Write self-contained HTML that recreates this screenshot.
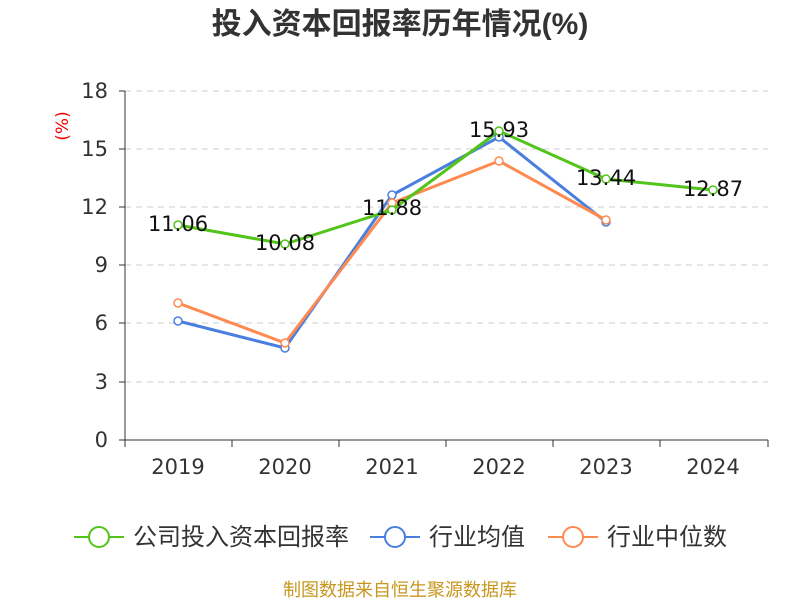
<!DOCTYPE html>
<html><head><meta charset="utf-8"><style>
body{margin:0;background:#fff;}
svg text{font-family:"DejaVu Sans","Noto Sans CJK SC",sans-serif;}
</style></head><body>
<svg width="800" height="600" viewBox="0 0 800 600" xmlns="http://www.w3.org/2000/svg">
<text x="400" y="34" text-anchor="middle" font-size="30" font-weight="bold" fill="#333" style="font-family:'Liberation Sans','Noto Sans CJK SC',sans-serif">投入资本回报率历年情况(%)</text>
<text x="68" y="126" font-size="17" fill="#e00" transform="rotate(-90 68 126)" text-anchor="middle">(%)</text>
<g stroke="#ccc" stroke-dasharray="6,5" stroke-width="1">
<line x1="125" y1="91" x2="768" y2="91"/><line x1="125" y1="149" x2="768" y2="149"/>
<line x1="125" y1="207" x2="768" y2="207"/><line x1="125" y1="265" x2="768" y2="265"/>
<line x1="125" y1="323" x2="768" y2="323"/><line x1="125" y1="382" x2="768" y2="382"/>
</g>
<g stroke="#333" stroke-width="1">
<line x1="125" y1="91" x2="125" y2="440"/><line x1="125" y1="440" x2="768" y2="440"/>
<line x1="119" y1="91" x2="125" y2="91"/><line x1="119" y1="149" x2="125" y2="149"/><line x1="119" y1="207" x2="125" y2="207"/><line x1="119" y1="265" x2="125" y2="265"/><line x1="119" y1="323" x2="125" y2="323"/><line x1="119" y1="382" x2="125" y2="382"/><line x1="119" y1="440" x2="125" y2="440"/>
<line x1="125" y1="440" x2="125" y2="447"/><line x1="232" y1="440" x2="232" y2="447"/><line x1="339" y1="440" x2="339" y2="447"/><line x1="446" y1="440" x2="446" y2="447"/><line x1="553" y1="440" x2="553" y2="447"/><line x1="660" y1="440" x2="660" y2="447"/><line x1="768" y1="440" x2="768" y2="447"/>
</g>
<g font-size="21" fill="#333" text-anchor="end">
<text x="108" y="98">18</text><text x="108" y="156">15</text><text x="108" y="214">12</text><text x="108" y="272">9</text><text x="108" y="330">6</text><text x="108" y="389">3</text><text x="108" y="447">0</text>
</g>
<g font-size="21" fill="#333" text-anchor="middle">
<text x="178" y="474">2019</text><text x="285" y="474">2020</text><text x="392" y="474">2021</text><text x="499" y="474">2022</text><text x="606" y="474">2023</text><text x="713" y="474">2024</text>
</g>
<polyline fill="none" stroke="#4a7fe0" stroke-width="3" points="178,321 285,348 392,195 499,137 606,222"/>
<polyline fill="none" stroke="#ff8a50" stroke-width="3" points="178,303 285,343 392,203 499,161 606,220"/>
<polyline fill="none" stroke="#52c41a" stroke-width="3" points="178,225 285,244 392,210 499,131 606,179 713,190"/>
<g fill="#fff" stroke-width="1.5">
<g stroke="#4a7fe0"><circle cx="178" cy="321" r="4"/><circle cx="285" cy="348" r="4"/><circle cx="392" cy="195" r="4"/><circle cx="499" cy="137" r="4"/><circle cx="606" cy="222" r="4"/></g>
<g stroke="#ff8a50"><circle cx="178" cy="303" r="4"/><circle cx="285" cy="343" r="4"/><circle cx="392" cy="203" r="4"/><circle cx="499" cy="161" r="4"/><circle cx="606" cy="220" r="4"/></g>
<g stroke="#52c41a"><circle cx="178" cy="225" r="4"/><circle cx="285" cy="244" r="4"/><circle cx="392" cy="210" r="4"/><circle cx="499" cy="131" r="4"/><circle cx="606" cy="179" r="4"/><circle cx="713" cy="190" r="4"/></g>
</g>
<g font-size="21" fill="#111" text-anchor="middle">
<text x="178" y="231">11.06</text><text x="285" y="250">10.08</text><text x="392" y="215">11.88</text><text x="499" y="137">15.93</text><text x="606" y="185">13.44</text><text x="713" y="196">12.87</text>
</g>
<g stroke-width="2" fill="#fff">
<line x1="74" y1="537" x2="124" y2="537" stroke="#52c41a"/><circle cx="99" cy="537" r="10" stroke="#52c41a"/>
<line x1="370" y1="537" x2="420" y2="537" stroke="#4a7fe0"/><circle cx="395" cy="537" r="10" stroke="#4a7fe0"/>
<line x1="548" y1="537" x2="598" y2="537" stroke="#ff8a50"/><circle cx="573" cy="537" r="10" stroke="#ff8a50"/>
</g>
<g font-size="24" fill="#333">
<text x="133" y="545">公司投入资本回报率</text><text x="429" y="545">行业均值</text><text x="607" y="545">行业中位数</text>
</g>
<text x="400" y="596" text-anchor="middle" font-size="18" fill="#c8961e">制图数据来自恒生聚源数据库</text>
</svg>
</body></html>
